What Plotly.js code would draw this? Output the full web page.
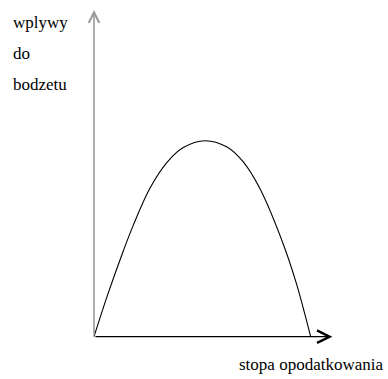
<!DOCTYPE html>
<html>
<head>
<meta charset="utf-8">
<script src="https://cdn.plot.ly/plotly-3.0.1.min.js"></script>
<style>
  html, body { margin: 0; padding: 0; background: #fff; }
  #laffer { width: 388px; height: 379px; }
</style>
</head>
<body>
<div id="laffer"></div>
<script>
// krzywa Laffera - stopa podatku (0..100) vs wplywy (szczyt = 100)
var stopa  = [0, 6, 13.5, 18.1, 25.8, 33.5, 41.2, 51.2, 61.2, 68.8, 76.5, 87.2, 93.4, 100];
var wplywy = [0, 20.4, 43.7, 56.8, 75.7, 88.7, 96.5, 100, 96.9, 89.3, 75.7, 47.7, 27.2, 0];

var osX = 110;    // koniec osi stopy
var osY = 166.7;  // koniec osi wplywow

var tytulY = ['wplywy', 'do', 'bodzetu'];
var tytulX = 'stopa opodatkowania';

var serif = '"Liberation Serif", "Times New Roman", Times, serif';

var trace1 = {
  x: stopa,
  y: wplywy,
  type: 'scatter',
  mode: 'lines',
  line: {color: 'black', width: 1.1, shape: 'spline', smoothing: 1},
  hoverinfo: 'skip',
  showlegend: false
};

var annotations = [
  // os pozioma
  {x: osX, y: 0, ax: 0, ay: 0, xref: 'x', yref: 'y', axref: 'x', ayref: 'y',
   text: '', showarrow: true, arrowhead: 5, arrowsize: 1.9, arrowwidth: 1.3,
   arrowcolor: 'black', standoff: 0, startstandoff: 0},
  // os pionowa
  {x: 0, y: osY, ax: 0, ay: 0, xref: 'x', yref: 'y', axref: 'x', ayref: 'y',
   text: '', showarrow: true, arrowhead: 5, arrowsize: 1.3, arrowwidth: 1.6,
   arrowcolor: '#999999', standoff: 0, startstandoff: 0},
  {x: 1, y: 0, xref: 'paper', yref: 'paper',
   xanchor: 'right', yanchor: 'bottom', xshift: -3, yshift: 3,
   text: tytulX, showarrow: false, font: {family: serif, size: 17, color: 'black'}}
];

tytulY.forEach(function(t, i) {
  annotations.push({
    x: 0, y: 1, xref: 'paper', yref: 'paper', xanchor: 'left', yanchor: 'middle',
    xshift: 11, yshift: -22 - i * 31,
    text: t, showarrow: false, font: {family: serif, size: 17, color: 'black'}
  });
});

var layout = {
  width: 388,
  height: 379,
  margin: {t: 0, b: 0, l: 0, r: 0},
  paper_bgcolor: 'white',
  plot_bgcolor: 'white',
  showlegend: false,
  xaxis: {range: [-43.4, 135.7], visible: false, fixedrange: true},
  yaxis: {range: [-21.6, 171.8], visible: false, fixedrange: true},
  annotations: annotations
};

Plotly.newPlot('laffer', [trace1], layout, {displayModeBar: false, staticPlot: true});
</script>
</body>
</html>
